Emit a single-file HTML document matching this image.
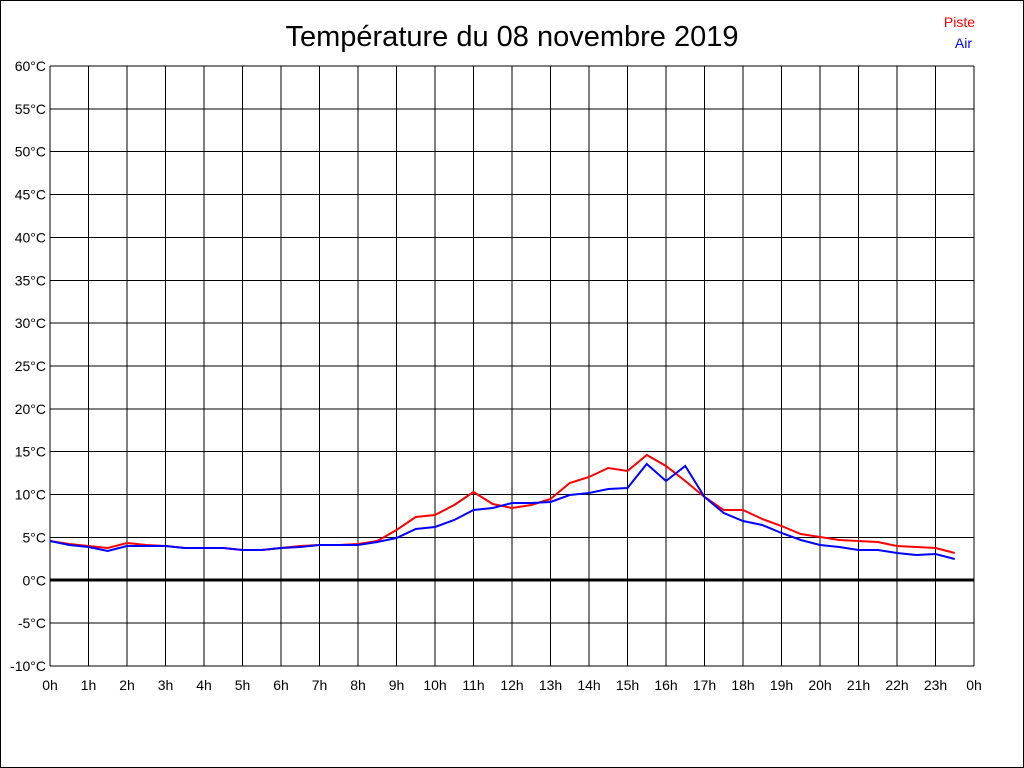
<!DOCTYPE html>
<html><head><meta charset="utf-8"><style>
html,body{margin:0;padding:0;background:#fff}
svg{display:block;font-family:"Liberation Sans",Arial,sans-serif}
</style></head><body>
<svg width="1024" height="768" viewBox="0 0 1024 768" xmlns="http://www.w3.org/2000/svg">
<rect x="0.5" y="0.5" width="1023" height="767" fill="#fff" stroke="#000"/>
<text x="512" y="46" font-size="29" text-anchor="middle">Température du 08 novembre 2019</text>
<text x="975" y="27" font-size="14" fill="#f00" text-anchor="end">Piste</text>
<text x="972" y="48" font-size="14" fill="#00f" text-anchor="end">Air</text>
<g id="grid" stroke="#000" stroke-width="1" shape-rendering="crispEdges"></g>
<g id="labels" font-size="14"></g>
<line x1="50" y1="580" x2="974" y2="580" stroke="#000" stroke-width="3"/>
<polyline id="red" fill="none" stroke="#f00" stroke-width="2"/>
<polyline id="blue" fill="none" stroke="#00f" stroke-width="2"/>
<script>
var g=document.getElementById('grid'),L=document.getElementById('labels'),ns='http://www.w3.org/2000/svg';
function el(p,t,a){var e=document.createElementNS(ns,t);for(var k in a)e.setAttribute(k,a[k]);p.appendChild(e);return e;}
for(var i=0;i<=14;i++){var y=66+i*600/14;el(g,'line',{x1:50,x2:974,y1:y,y2:y});
var t=el(L,'text',{x:46,y:y+5,'text-anchor':'end'});t.textContent=(60-5*i)+'°C';}
for(var h=0;h<=24;h++){var x=50+h*38.5;el(g,'line',{x1:x,x2:x,y1:66,y2:666});
var t=el(L,'text',{x:x,y:690,'text-anchor':'middle'});t.textContent=(h%24)+'h';}
var r=[541,544,546,548,543,545,546,548,548,548,550,550,548,546,545,545,544,541,530,517,515,505,492,504,508,505,499,483,477,468,471,455,466,481,497,510,510,519,526,534,537,540,541,542,546,547,548,553];
var b=[541,545,547,551,546,546,546,548,548,548,550,550,548,547,545,545,545,542,538,529,527,520,510,508,503,503,502,495,493,489,488,464,481,466,497,513,521,525,533,540,545,547,550,550,553,555,554,559];
function pts(a){return a.map(function(v,i){return (50+i*19.25)+','+v}).join(' ');}
document.getElementById('red').setAttribute('points',pts(r));
document.getElementById('blue').setAttribute('points',pts(b));
</script>
</svg>
</body></html>
